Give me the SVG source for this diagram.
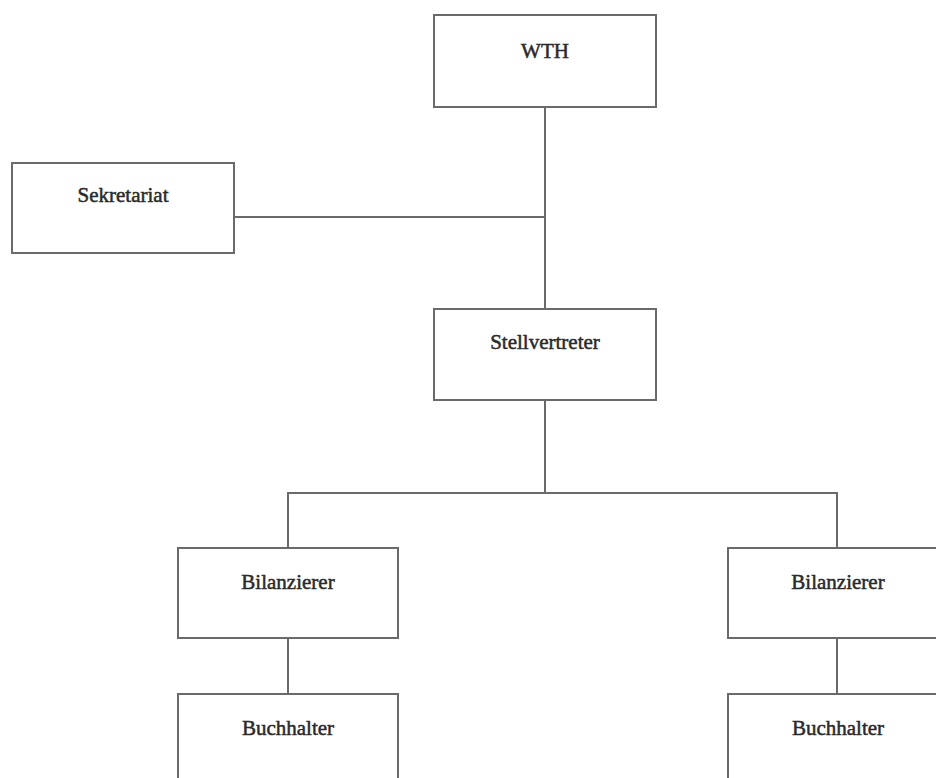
<svg xmlns="http://www.w3.org/2000/svg" width="936" height="778" viewBox="0 0 936 778">
<style>
.box{fill:#fff;stroke:#6a6a6a;stroke-width:2}
.lbl{font-family:"Liberation Serif","Times New Roman",serif;font-size:21px;fill:#2a2a2a;stroke:#2a2a2a;stroke-width:0.5;text-anchor:middle}
.con{fill:none;stroke:#6a6a6a;stroke-width:2}
</style>
<rect width="936" height="778" fill="#fff"/>
<g id="connectors">
<line class="con" x1="545" y1="107" x2="545" y2="309"/>
<line class="con" x1="234" y1="217" x2="545" y2="217"/>
<line class="con" x1="545" y1="400" x2="545" y2="493"/>
<polyline class="con" points="288,548 288,493 837,493 837,548"/>
<line class="con" x1="288" y1="638" x2="288" y2="694"/>
<line class="con" x1="837" y1="638" x2="837" y2="694"/>
</g>
<g id="wth"><rect class="box" x="434" y="15" width="222" height="92"/><text class="lbl" x="545" y="58">WTH</text></g>
<g id="sekretariat"><rect class="box" x="12" y="163" width="222" height="90"/><text class="lbl" x="123" y="202">Sekretariat</text></g>
<g id="stellvertreter"><rect class="box" x="434" y="309" width="222" height="91"/><text class="lbl" x="545" y="349">Stellvertreter</text></g>
<g id="bilanzierer1"><rect class="box" x="178" y="548" width="220" height="90"/><text class="lbl" x="288" y="589">Bilanzierer</text></g>
<g id="bilanzierer2"><rect class="box" x="728" y="548" width="220" height="90"/><text class="lbl" x="838" y="589">Bilanzierer</text></g>
<g id="buchhalter1"><rect class="box" x="178" y="694" width="220" height="100"/><text class="lbl" x="288" y="735">Buchhalter</text></g>
<g id="buchhalter2"><rect class="box" x="728" y="694" width="220" height="100"/><text class="lbl" x="838" y="735">Buchhalter</text></g>
</svg>
